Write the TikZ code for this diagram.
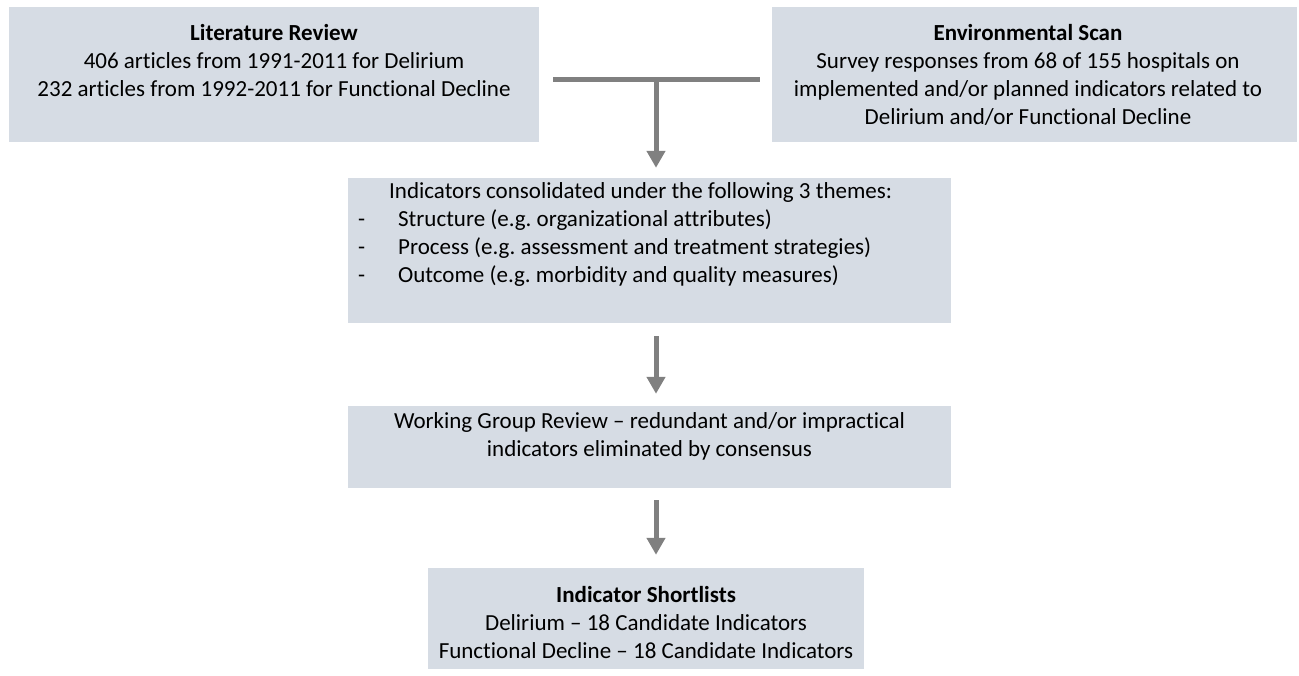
\documentclass[tikz,border=0pt]{standalone}
\usepackage{fontspec}
\setmainfont{Carlito}[Ligatures={NoCommon,TeX}]
\usetikzlibrary{arrows.meta}
\definecolor{boxfill}{HTML}{D6DCE4}
\definecolor{arrowgray}{HTML}{808080}
\tikzset{
  panel/.style={fill=boxfill,draw=none,inner sep=0pt},
  txt/.style={font=\fontsize{23}{28}\selectfont,align=center,inner sep=0pt,anchor=north},
  txtl/.style={font=\fontsize{23}{28}\selectfont,align=left,inner sep=0pt,anchor=north west},
  joint/.style={draw=arrowgray,line width=5pt},
  flow/.style={draw=arrowgray,line width=5pt,-{Triangle[width=18pt,length=17pt]}}
}
\begin{document}
\begin{tikzpicture}[x=1pt,y=-1pt]
\path[fill=white,use as bounding box] (0,0) rectangle (1299,675);
% boxes
\node[panel,minimum width=530pt,minimum height=135pt] (lit) at (274,74.5) {};
\node[panel,minimum width=525pt,minimum height=135pt] (env) at (1034.5,74.5) {};
\node[panel,minimum width=603pt,minimum height=145pt] (mid) at (649.5,250.5) {};
\node[panel,minimum width=603pt,minimum height=82pt] (wg) at (649.5,447) {};
\node[panel,minimum width=436pt,minimum height=101pt] (short) at (646,618.5) {};
% texts
\node[txt] (littxt) at (274,24) {\textbf{Literature Review}\\406 articles from 1991-2011 for Delirium\\232 articles from 1992-2011 for Functional Decline};
\node[txt] (envtxt) at (1028,24) {\textbf{Environmental Scan}\\Survey responses from 68 of 155 hospitals on\\implemented and/or planned indicators related to\\Delirium and/or Functional Decline};
\node[txtl] (midtxt) at (358,182) {\makebox[31pt][l]{}Indicators consolidated under the following 3 themes:\\\makebox[40pt][l]{-}Structure (e.g.\ organizational attributes)\\\makebox[40pt][l]{-}Process (e.g.\ assessment and treatment strategies)\\\makebox[40pt][l]{-}Outcome (e.g.\ morbidity and quality measures)};
\node[txt] (wgtxt) at (649.5,412) {Working Group Review – redundant and/or impractical\\indicators eliminated by consensus};
\node[txt] (shorttxt) at (646,586) {\textbf{Indicator Shortlists}\\Delirium – 18 Candidate Indicators\\Functional Decline – 18 Candidate Indicators};
% connectors
\coordinate (jl) at (553,79);
\coordinate (jr) at (760,79);
\coordinate (jm) at (656,79);
\draw[joint] (jl) -- (jr);
\draw[flow,shorten >=10pt] (jm) -- (jm |- mid.north);
\draw[flow,shorten <=13pt,shorten >=12pt] (jm |- mid.south) -- (jm |- wg.north);
\draw[flow,shorten <=12pt,shorten >=13pt] (jm |- wg.south) -- (jm |- short.north);
\end{tikzpicture}
\end{document}
